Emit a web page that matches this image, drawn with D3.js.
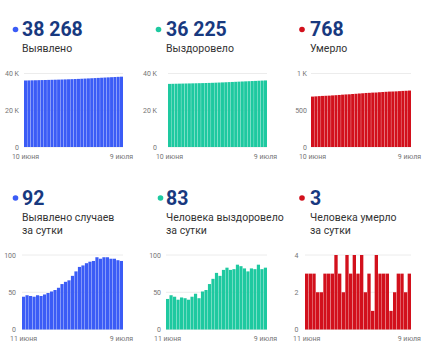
<!DOCTYPE html>
<html>
<head>
<meta charset="utf-8">
<script src="https://cdn.jsdelivr.net/npm/d3@7"></script>
<style>
  body { margin: 0; background: #fff; font-family: Roboto, "Noto Sans", sans-serif; }
</style>
</head>
<body>
<div id="chart"></div>
<script>
// days: 10 June .. 9 July (cumulative), 11 June .. 9 July (daily)
var daysTotal = d3.timeDay.range(new Date(2020, 5, 10), new Date(2020, 6, 10));
var daysDaily = d3.timeDay.range(new Date(2020, 5, 11), new Date(2020, 6, 10));

var casesTotal = [36198, 36242, 36288, 36333, 36377, 36423, 36468, 36515, 36564, 36615,
  36668, 36724, 36785, 36849, 36915, 36987, 37065, 37149, 37235, 37324,
  37415, 37507, 37604, 37699, 37796, 37893, 37988, 38083, 38176, 38268];
var recoveredTotal = [34344, 34385, 34431, 34475, 34515, 34558, 34600, 34640, 34684, 34732,
  34774, 34825, 34878, 34939, 35007, 35083, 35155, 35235, 35318, 35398,
  35479, 35566, 35651, 35733, 35811, 35893, 35974, 36061, 36142, 36225];
var deathsTotal = [686, 689, 692, 695, 697, 699, 702, 705, 708, 712,
  715, 717, 721, 724, 728, 731, 735, 737, 740, 741,
  745, 748, 751, 754, 755, 757, 760, 763, 765, 768];

var casesDaily = [44, 46, 45, 44, 46, 45, 47, 49, 51, 53, 56, 61, 64, 66, 72,
  78, 84, 86, 89, 91, 92, 97, 95, 97, 97, 95, 95, 93, 92];
var recoveredDaily = [41, 46, 44, 40, 43, 42, 40, 44, 48, 42, 51, 53, 61, 68, 76,
  72, 80, 83, 80, 81, 87, 85, 82, 78, 82, 81, 87, 81, 83];
var deathsDaily = [3, 3, 3, 2, 2, 3, 3, 3, 4, 3, 2, 4, 3, 4, 3,
  4, 2, 3, 1, 4, 3, 3, 3, 1, 2, 3, 3, 2, 3];

var headlines = ["38 268", "36 225", "768", "92", "83", "3"];
var captions = [["Выявлено"], ["Выздоровело"], ["Умерло"],
  ["Выявлено случаев", "за сутки"], ["Человека выздоровело", "за сутки"], ["Человека умерло", "за сутки"]];
var xTicksTotal = ["10 июня", "9 июля"];
var xTicksDaily = ["11 июня", "9 июля"];

var blue = "#3b5cf6", teal = "#1ec9a0", red = "#d2101c", navy = "#18397f";

// 40000 -> "40 K", 1000 -> "1 K", 500 -> "500"
var kFmt = function(v) { return v >= 1000 ? (v / 1000) + " K" : String(v); };
var plainFmt = function(v) { return String(v); };

var panels = [
  {values: casesTotal, days: daysTotal, color: blue, max: 40000, ticks: [0, 20000, 40000], fmt: kFmt, xt: xTicksTotal,
    dotX: 15.5, textX: 22, numY: 36, capY: 51.5, left: 24, right: 123, top: 73.5, base: 147, axX: 19},
  {values: recoveredTotal, days: daysTotal, color: teal, max: 40000, ticks: [0, 20000, 40000], fmt: kFmt, xt: xTicksTotal,
    dotX: 158.5, textX: 166, numY: 36, capY: 51.5, left: 168, right: 267, top: 73.5, base: 147, axX: 157},
  {values: deathsTotal, days: daysTotal, color: red, max: 1000, ticks: [0, 500, 1000], fmt: kFmt, xt: xTicksTotal,
    dotX: 302, textX: 310, numY: 36, capY: 51.5, left: 311, right: 411, top: 73.5, base: 147, axX: 307},
  {values: casesDaily, days: daysDaily, color: blue, max: 100, ticks: [0, 50, 100], fmt: plainFmt, xt: xTicksDaily,
    dotX: 15.5, textX: 22, numY: 204.5, capY: 221, left: 22, right: 123, top: 255, base: 329.5, axX: 16},
  {values: recoveredDaily, days: daysDaily, color: teal, max: 100, ticks: [0, 50, 100], fmt: plainFmt, xt: xTicksDaily,
    dotX: 160.5, textX: 166, numY: 204.5, capY: 221, left: 166, right: 267, top: 255, base: 329.5, axX: 161},
  {values: deathsDaily, days: daysDaily, color: red, max: 4, ticks: [0, 2, 4], fmt: plainFmt, xt: xTicksDaily,
    dotX: 302, textX: 310, numY: 204.5, capY: 221, left: 305, right: 411, top: 255, base: 329.5, axX: 298.5}
];

var svg = d3.select("#chart").append("svg")
    .attr("width", 430)
    .attr("height", 352);

panels.forEach(function(p, i) {
  var g = svg.append("g");

  var x = d3.scaleBand()
      .domain(p.days)
      .range([p.left, p.right])
      .paddingInner(0.09);

  var y = d3.scaleLinear()
      .domain([0, p.max])
      .range([p.base, p.top]);

  // header
  g.append("circle")
      .attr("cx", p.dotX)
      .attr("cy", p.numY - 6.5)
      .attr("r", 2.8)
      .attr("fill", p.color);

  g.append("text")
      .attr("x", p.textX)
      .attr("y", p.numY)
      .style("font-size", "19.5px")
      .style("font-weight", 700)
      .attr("fill", navy)
      .text(headlines[i]);

  g.selectAll(".cap")
      .data(captions[i])
      .enter().append("text")
      .attr("x", p.textX)
      .attr("y", function(d, j) { return p.capY + j * 12.5; })
      .style("font-size", "10.5px")
      .attr("fill", "#333")
      .text(function(d) { return d; });

  // grid + y labels
  g.selectAll(".grid")
      .data(p.ticks)
      .enter().append("line")
      .attr("x1", p.left)
      .attr("x2", p.right)
      .attr("y1", function(d) { return y(d); })
      .attr("y2", function(d) { return y(d); })
      .attr("stroke", "#ececec")
      .attr("stroke-width", 1);

  g.selectAll(".ylab")
      .data(p.ticks)
      .enter().append("text")
      .attr("x", p.axX)
      .attr("y", function(d) { return y(d) + 2.5; })
      .attr("text-anchor", "end")
      .style("font-size", "7px")
      .attr("fill", "#757575")
      .text(p.fmt);

  // bars
  g.selectAll(".bar")
      .data(p.values)
      .enter().append("rect")
      .attr("x", function(d, j) { return x(p.days[j]); })
      .attr("y", function(d) { return y(d); })
      .attr("width", x.bandwidth())
      .attr("height", function(d) { return p.base - y(d); })
      .attr("fill", p.color);

  // x labels at first and last day
  var ends = [p.days[0], p.days[p.days.length - 1]];
  g.selectAll(".xlab")
      .data(ends)
      .enter().append("text")
      .attr("x", function(d) { return x(d) + x.bandwidth() / 2; })
      .attr("y", p.base + 11.5)
      .attr("text-anchor", "middle")
      .style("font-size", "7px")
      .attr("fill", "#757575")
      .text(function(d, j) { return p.xt[j]; });
});
</script>
</body>
</html>
